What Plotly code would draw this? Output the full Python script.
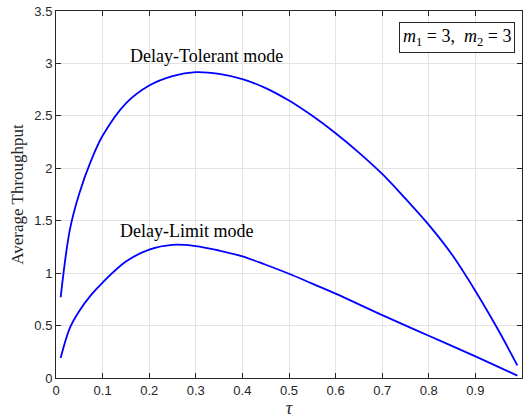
import plotly.graph_objects as go

tau_tol = [0.01, 0.03, 0.05, 0.075, 0.10, 0.15, 0.20, 0.25, 0.30, 0.35, 0.40, 0.45,
           0.50, 0.55, 0.60, 0.65, 0.70, 0.75, 0.80, 0.85, 0.90, 0.95, 0.99]
thr_tol = [0.77, 1.42, 1.76, 2.07, 2.31, 2.62, 2.79, 2.88, 2.917, 2.90, 2.85, 2.765,
           2.646, 2.50, 2.334, 2.15, 1.946, 1.71, 1.46, 1.175, 0.83, 0.45, 0.12]

tau_lim = [0.01, 0.03, 0.05, 0.075, 0.10, 0.15, 0.20, 0.25, 0.30, 0.35, 0.40, 0.45,
           0.50, 0.55, 0.60, 0.70, 0.80, 0.90, 0.99]
thr_lim = [0.19, 0.48, 0.64, 0.79, 0.91, 1.11, 1.225, 1.27, 1.258, 1.215, 1.16, 1.08,
           0.994, 0.90, 0.805, 0.60, 0.403, 0.206, 0.022]

x_ticks = [0, 0.1, 0.2, 0.3, 0.4, 0.5, 0.6, 0.7, 0.8, 0.9, 1]
x_tick_labels = ["0", "0.1", "0.2", "0.3", "0.4", "0.5", "0.6", "0.7", "0.8", "0.9", "1"]
y_ticks = [0, 0.5, 1, 1.5, 2, 2.5, 3, 3.5]
y_tick_labels = ["0", "0.5", "1", "1.5", "2", "2.5", "3", "3.5"]

fig = go.Figure()
for xs, ys in [(tau_tol, thr_tol), (tau_lim, thr_lim)]:
    fig.add_trace(go.Scatter(x=xs, y=ys, mode="lines",
                             line=dict(color="#0000ff", width=1.8, shape="spline", smoothing=1.0),
                             showlegend=False, hoverinfo="skip"))

serif = "Liberation Serif, DejaVu Serif, serif"
fig.add_annotation(x=0.323, y=3.07, text="Delay-Tolerant mode", showarrow=False,
                   font=dict(family=serif, size=18, color="#000000"))
fig.add_annotation(x=0.279, y=1.40, text="Delay-Limit mode", showarrow=False,
                   font=dict(family=serif, size=18, color="#000000"))
fig.add_annotation(x=0.986, y=3.25, xanchor="right", yanchor="middle",
                   text="<i>m</i><sub>1</sub> = 3,  <i>m</i><sub>2</sub> = 3", showarrow=False,
                   font=dict(family=serif, size=18, color="#000000"),
                   bordercolor="#262626", borderwidth=1, borderpad=3, bgcolor="#ffffff")

axis_common = dict(showline=True, linecolor="#262626", linewidth=1, mirror="ticks",
                   ticks="inside", ticklen=5, tickcolor="#262626",
                   showgrid=True, gridcolor="#e3e3e3", gridwidth=1, zeroline=False,
                   tickfont=dict(family="Liberation Sans, Arial, sans-serif", size=13, color="#262626"))

fig.update_xaxes(range=[0, 1], tickvals=x_ticks, ticktext=x_tick_labels,
                 title=dict(text="<i>τ</i>", font=dict(family=serif, size=18, color="#262626"), standoff=2),
                 **axis_common)
fig.update_yaxes(range=[0, 3.5], tickvals=y_ticks, ticktext=y_tick_labels,
                 title=dict(text="Average Throughput", font=dict(family=serif, size=17, color="#262626"), standoff=6),
                 **axis_common)

fig.update_layout(width=523, height=420, margin=dict(l=56, r=1.3, t=11, b=41.7),
                  plot_bgcolor="#ffffff", paper_bgcolor="#ffffff")

fig.write_html("out.html", post_script="document.body.style.margin='0';",
               config={"displayModeBar": False})
